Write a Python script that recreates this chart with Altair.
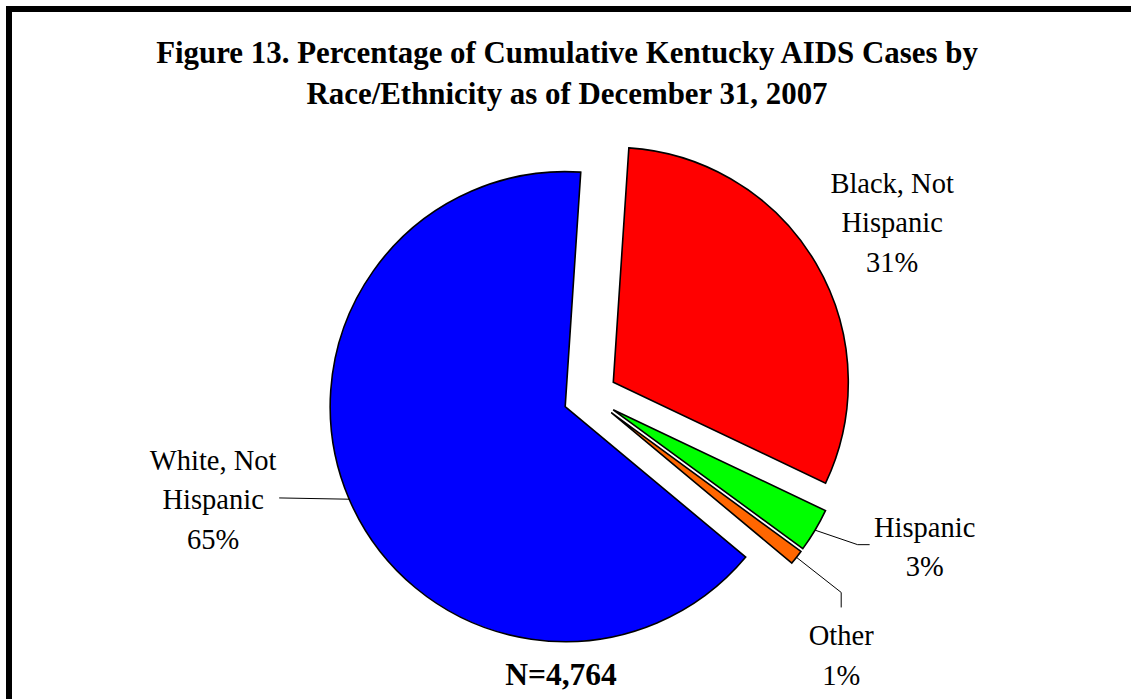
import math

import altair as alt
import pandas as pd

# ---- data -----------------------------------------------------------------
groups = ["Black, Not Hispanic", "Hispanic", "Other", "White, Not Hispanic"]
percents = [31, 3, 1, 65]
label_names = ["Black, Not\nHispanic", "Hispanic", "Other", "White, Not\nHispanic"]
title_lines = [
    "Figure 13. Percentage of Cumulative Kentucky AIDS Cases by",
    "Race/Ethnicity as of December 31, 2007",
]
total_note = "N=4,764"

# ---- layout / style -------------------------------------------------------
W, H = 1131, 699
CX, CY = 590, 396          # pie centre
R = 235                    # pie radius
EXPLODE = 27               # every slice pulled out from the centre
START_DEG = 3.8            # angle of the first slice edge (clockwise from 12 o'clock)
colors = ["#FF0000", "#00FF00", "#FF6600", "#0000FF"]
SERIF = "'Liberation Serif', 'Times New Roman', Times, serif"

# label anchor (first baseline, centred): distance from centre, nudge from bisector (deg)
label_dist = [364, 363, 354, 384]
label_nudge = [-3.5, -8.0, 6.8, 12.1]
LABEL_SIZE = 28.5
LABEL_LH = 39.5
# leader lines: bend / end points relative to the label anchor
leaders = {
    "Hispanic": [(-67, 8), (-55, 8)],
    "Other": [(0, -53), (0, -38)],
    "White, Not Hispanic": [(66, 28)],
}

# ---- geometry derived from the values -------------------------------------
rows, label_rows, leader_rows = [], [], []
acc = START_DEG
for i, (g, p) in enumerate(zip(groups, percents)):
    a0 = acc
    a1 = acc + p / 100 * 360
    acc = a1
    mid = math.radians((a0 + a1) / 2)
    sx = CX + EXPLODE * math.sin(mid)
    sy = CY - EXPLODE * math.cos(mid)
    rows.append(dict(group=g, x=sx, y=sy, t0=math.radians(a0), t1=math.radians(a1)))

    la = mid + math.radians(label_nudge[i])
    lx = CX + label_dist[i] * math.sin(la)
    ly = CY - label_dist[i] * math.cos(la)
    label_rows.append(dict(group=g, x=lx, y=ly, text=f"{label_names[i]}\n{p}%"))

    if g in leaders:
        pts = [(sx + R * math.sin(mid), sy - R * math.cos(mid))]
        pts += [(lx + dx, ly + dy) for dx, dy in leaders[g]]
        for k, (px, py) in enumerate(pts):
            leader_rows.append(dict(group=g, k=k, x=px, y=py))

slices = pd.DataFrame(rows)
labels = pd.DataFrame(label_rows)
lines = pd.DataFrame(leader_rows)

xs = alt.Scale(domain=[0, W], nice=False, zero=False)
ys = alt.Scale(domain=[0, H], nice=False, zero=False, reverse=True)

pie = (
    alt.Chart(slices)
    .mark_arc(radius=R, stroke="black", strokeWidth=1.6, strokeJoin="miter")
    .encode(
        x=alt.X("x:Q", scale=xs, axis=None),
        y=alt.Y("y:Q", scale=ys, axis=None),
        theta=alt.Theta("t0:Q", scale=None, stack=None),
        theta2="t1:Q",
        color=alt.Color("group:N", scale=alt.Scale(domain=groups, range=colors), legend=None),
    )
)

leader_lines = (
    alt.Chart(lines)
    .mark_line(color="black", strokeWidth=1)
    .encode(
        x=alt.X("x:Q", scale=xs, axis=None),
        y=alt.Y("y:Q", scale=ys, axis=None),
        detail="group:N",
        order="k:Q",
    )
)

slice_labels = (
    alt.Chart(labels)
    .mark_text(
        font=SERIF, fontSize=LABEL_SIZE, align="center", baseline="alphabetic",
        lineBreak="\n", lineHeight=LABEL_LH, color="black",
    )
    .encode(
        x=alt.X("x:Q", scale=xs, axis=None),
        y=alt.Y("y:Q", scale=ys, axis=None),
        text="text:N",
    )
)

title = (
    alt.Chart(pd.DataFrame({"t": ["\n".join(title_lines)]}))
    .mark_text(
        font=SERIF, fontSize=30.9, fontWeight="bold", align="center",
        baseline="alphabetic", lineBreak="\n", lineHeight=41, color="black",
    )
    .encode(x=alt.value(567), y=alt.value(63), text="t:N")
)

note = (
    alt.Chart(pd.DataFrame({"t": [total_note]}))
    .mark_text(font=SERIF, fontSize=31.5, fontWeight="bold", align="center",
               baseline="alphabetic", color="black")
    .encode(x=alt.value(561), y=alt.value(685), text="t:N")
)

frame = (
    alt.Chart(pd.DataFrame({"a": [0]}))
    .mark_rect(fillOpacity=0, stroke="black", strokeWidth=6)
    .encode(x=alt.value(9), x2=alt.value(1150), y=alt.value(9), y2=alt.value(720))
)

chart = (
    alt.layer(frame, pie, leader_lines, slice_labels, title, note)
    .properties(width=W, height=H, padding=0, autosize=alt.AutoSizeParams(type="none"),
                background="white")
    .configure_view(stroke=None)
)

chart.save("out.html", embed_options={"renderer": "svg", "actions": False})
